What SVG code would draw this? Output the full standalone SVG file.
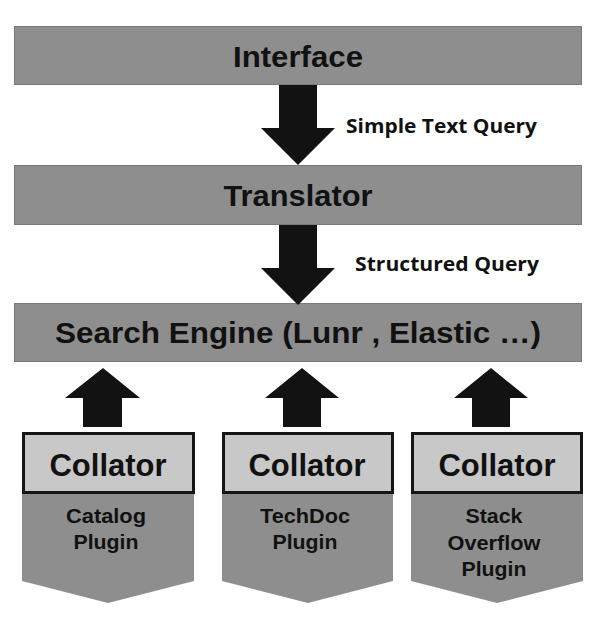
<svg xmlns="http://www.w3.org/2000/svg" width="600" height="621" viewBox="0 0 600 621">
<style>
.main{fill:#8e8e8e;stroke:#7a7a7a;stroke-width:1}
.coll{fill:#c8c8c8;stroke:#151515;stroke-width:3}
.plug{fill:#8e8e8e;stroke:none}
.arrow{fill:#121212;stroke:none}
.big{font-family:"Liberation Sans",Arial,sans-serif;font-weight:700;font-size:30px;fill:#111;text-anchor:middle}
.cl{font-family:"Liberation Sans",Arial,sans-serif;font-weight:700;font-size:32px;fill:#111;text-anchor:middle}
.small{font-family:"Liberation Sans",Arial,sans-serif;font-weight:700;font-size:21px;fill:#111;text-anchor:middle}
.lbl{font-family:"Open Sans","Liberation Sans",sans-serif;font-weight:700;font-size:19px;fill:#111}
</style>
<rect width="600" height="621" fill="#ffffff"/>
<g id="interface">
<rect class="main" x="14.5" y="26.5" width="567" height="58"/>
<text class="big" x="298" y="67" textLength="130" lengthAdjust="spacingAndGlyphs">Interface</text>
</g>
<g id="translator">
<rect class="main" x="14.5" y="165.5" width="567" height="59"/>
<text class="big" x="298" y="206" textLength="149" lengthAdjust="spacingAndGlyphs">Translator</text>
</g>
<g id="search-engine">
<rect class="main" x="14.5" y="303.5" width="567" height="58"/>
<text class="big" x="298" y="343" textLength="486" lengthAdjust="spacingAndGlyphs">Search Engine (Lunr , Elastic …)</text>
</g>
<g id="catalog-plugin">
<polygon class="plug" points="22,493 194,493 194,581 108,603 22,581"/>
<rect class="coll" x="23.5" y="433.5" width="170" height="59"/>
<text class="cl" x="108" y="476" textLength="117" lengthAdjust="spacingAndGlyphs">Collator</text>
<text class="small" x="106" y="523" textLength="80" lengthAdjust="spacingAndGlyphs">Catalog</text>
<text class="small" x="106" y="549" textLength="65" lengthAdjust="spacingAndGlyphs">Plugin</text>
</g>
<g id="techdoc-plugin">
<polygon class="plug" points="222,493 393,493 393,581 308,603 222,581"/>
<rect class="coll" x="223.5" y="433.5" width="169" height="59"/>
<text class="cl" x="307" y="476" textLength="117" lengthAdjust="spacingAndGlyphs">Collator</text>
<text class="small" x="305" y="523" textLength="90" lengthAdjust="spacingAndGlyphs">TechDoc</text>
<text class="small" x="305" y="549" textLength="65" lengthAdjust="spacingAndGlyphs">Plugin</text>
</g>
<g id="stackoverflow-plugin">
<polygon class="plug" points="411,493 583,493 583,581 497,603 411,581"/>
<rect class="coll" x="412.5" y="433.5" width="169" height="59"/>
<text class="cl" x="497" y="476" textLength="117" lengthAdjust="spacingAndGlyphs">Collator</text>
<text class="small" x="494" y="523" textLength="57" lengthAdjust="spacingAndGlyphs">Stack</text>
<text class="small" x="494" y="550" textLength="93" lengthAdjust="spacingAndGlyphs">Overflow</text>
<text class="small" x="494" y="576" textLength="65" lengthAdjust="spacingAndGlyphs">Plugin</text>
</g>
<g id="connectors">
<polygon class="arrow" points="279,85 317,85 317,128 335,128 298,165 261,128 279,128"/>
<polygon class="arrow" points="279,225 317,225 317,268 335,268 298,305 261,268 279,268"/>
<polygon class="arrow" points="83,427 122,427 122,398 140,398 103,368 65,398 83,398"/>
<polygon class="arrow" points="283,427 321,427 321,398 339,398 302,368 265,398 283,398"/>
<polygon class="arrow" points="472,427 510,427 510,398 528,398 491,368 454,398 472,398"/>
<text class="lbl" x="346" y="133" textLength="191" lengthAdjust="spacingAndGlyphs">Simple Text Query</text>
<text class="lbl" x="355" y="271" textLength="184" lengthAdjust="spacingAndGlyphs">Structured Query</text>
</g>
</svg>
